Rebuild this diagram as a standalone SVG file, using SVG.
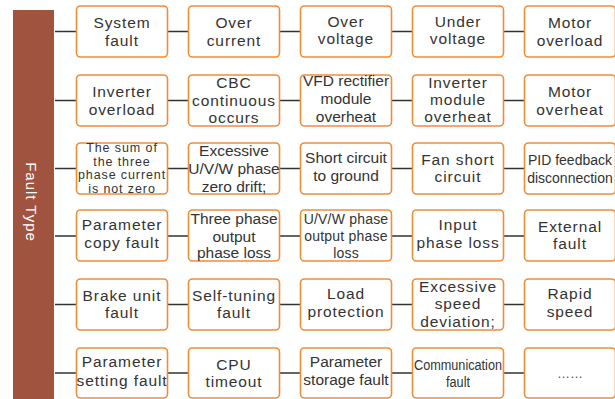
<svg xmlns="http://www.w3.org/2000/svg" width="615" height="399" viewBox="0 0 615 399">
<style>
.bx{fill:#fff;stroke:#F28C36;stroke-width:1.6}
.ln{stroke:#333;stroke-width:1.5;fill:none}
text{font-family:"Liberation Sans",Arial,sans-serif;fill:#333;text-anchor:middle;font-size:15.5px;letter-spacing:0.9px}
.t{letter-spacing:0}
.s14{font-size:14px;letter-spacing:0.2px}
.s13{font-size:12.5px;letter-spacing:0.9px}
.title{fill:#fff;font-size:15px;letter-spacing:1px}
</style>
<rect x="13" y="10" width="41" height="389" fill="#A0533F"/>
<text class="title" transform="translate(25.5,202) rotate(90)">Fault Type</text>
<g id="connectors">
<path class="ln" d="M55 31.5H76.5M167.5 31.5H188.5M279.5 31.5H300.5M391.5 31.5H412.5M503.5 31.5H524.5"/>
<path class="ln" d="M55 100.5H76.5M167.5 100.5H188.5M279.5 100.5H300.5M391.5 100.5H412.5M503.5 100.5H524.5"/>
<path class="ln" d="M55 168.5H76.5M167.5 168.5H188.5M279.5 168.5H300.5M391.5 168.5H412.5M503.5 168.5H524.5"/>
<path class="ln" d="M55 236H76.5M167.5 236H188.5M279.5 236H300.5M391.5 236H412.5M503.5 236H524.5"/>
<path class="ln" d="M55 304.5H76.5M167.5 304.5H188.5M279.5 304.5H300.5M391.5 304.5H412.5M503.5 304.5H524.5"/>
<path class="ln" d="M55 373H76.5M167.5 373H188.5M279.5 373H300.5M391.5 373H412.5M503.5 373H524.5"/>
</g>
<!-- Row 1 -->
<g id="n11"><rect class="bx" x="76.5" y="6" width="91" height="51" rx="4"/><text x="122" y="28.3">System<tspan x="122" y="46">fault</tspan></text></g>
<g id="n12"><rect class="bx" x="188.5" y="6" width="91" height="51" rx="4"/><text x="234" y="28">Over<tspan x="234" y="46">current</tspan></text></g>
<g id="n13"><rect class="bx" x="300.5" y="6" width="91" height="51" rx="4"/><text x="346" y="26.7">Over<tspan x="346" y="44.3">voltage</tspan></text></g>
<g id="n14"><rect class="bx" x="412.5" y="6" width="91" height="51" rx="4"/><text x="458" y="26.7">Under<tspan x="458" y="44.3">voltage</tspan></text></g>
<g id="n15"><rect class="bx" x="524.5" y="6" width="91" height="51" rx="4"/><text x="570" y="28.3">Motor<tspan x="570" y="45.7">overload</tspan></text></g>
<!-- Row 2 -->
<g id="n21"><rect class="bx" x="76.5" y="75" width="91" height="51" rx="4"/><text x="122" y="96.7">Inverter<tspan x="122" y="115">overload</tspan></text></g>
<g id="n22"><rect class="bx" x="188.5" y="75" width="91" height="51" rx="4"/><text x="234" y="87.7">CBC<tspan x="234" y="105.7">continuous</tspan><tspan x="234" y="123.3">occurs</tspan></text></g>
<g id="n23"><rect class="bx" x="300.5" y="75" width="91" height="51" rx="4"/><text class="t" x="346" y="86">VFD rectifier<tspan x="346" y="104">module</tspan><tspan x="346" y="122.3">overheat</tspan></text></g>
<g id="n24"><rect class="bx" x="412.5" y="75" width="91" height="51" rx="4"/><text x="458" y="87.7">Inverter<tspan x="458" y="105.3">module</tspan><tspan x="458" y="122.3">overheat</tspan></text></g>
<g id="n25"><rect class="bx" x="524.5" y="75" width="91" height="51" rx="4"/><text x="570" y="96.7">Motor<tspan x="570" y="115">overheat</tspan></text></g>
<!-- Row 3 -->
<g id="n31"><rect class="bx" x="76.5" y="143" width="91" height="51" rx="4"/><text class="s13" x="122" y="152.2">The sum of<tspan x="122" y="165.7">the three</tspan><tspan x="122" y="179.2">phase current</tspan><tspan x="122" y="192.7">is not zero</tspan></text></g>
<g id="n32"><rect class="bx" x="188.5" y="143" width="91" height="51" rx="4"/><text class="t" x="234" y="156">Excessive<tspan x="234" y="174">U/V/W phase</tspan><tspan x="234" y="191.7">zero drift;</tspan></text></g>
<g id="n33"><rect class="bx" x="300.5" y="143" width="91" height="51" rx="4"/><text class="t" x="346" y="163.3">Short circuit<tspan x="346" y="180.7">to ground</tspan></text></g>
<g id="n34"><rect class="bx" x="412.5" y="143" width="91" height="51" rx="4"/><text x="458" y="165">Fan short<tspan x="458" y="182">circuit</tspan></text></g>
<g id="n35"><rect class="bx" x="524.5" y="143" width="91" height="51" rx="4"/><text class="s14" x="570" y="165" style="letter-spacing:0">PID feedback<tspan x="570" y="183">disconnection</tspan></text></g>
<!-- Row 4 -->
<g id="n41"><rect class="bx" x="76.5" y="210" width="91" height="51" rx="4"/><text x="122" y="230">Parameter<tspan x="122" y="248.3">copy fault</tspan></text></g>
<g id="n42"><rect class="bx" x="188.5" y="210" width="91" height="51" rx="4"/><text class="t" x="234" y="224">Three phase<tspan x="234" y="241.7">output</tspan><tspan x="234" y="258">phase loss</tspan></text></g>
<g id="n43"><rect class="bx" x="300.5" y="210" width="91" height="51" rx="4"/><text class="s14" x="346" y="224">U/V/W phase<tspan x="346" y="241">output phase</tspan><tspan x="346" y="257.5">loss</tspan></text></g>
<g id="n44"><rect class="bx" x="412.5" y="210" width="91" height="51" rx="4"/><text x="458" y="230">Input<tspan x="458" y="248">phase loss</tspan></text></g>
<g id="n45"><rect class="bx" x="524.5" y="210" width="91" height="51" rx="4"/><text x="570" y="231.7">External<tspan x="570" y="249">fault</tspan></text></g>
<!-- Row 5 -->
<g id="n51"><rect class="bx" x="76.5" y="279" width="91" height="51" rx="4"/><text x="122" y="300.7">Brake unit<tspan x="122" y="318.3">fault</tspan></text></g>
<g id="n52"><rect class="bx" x="188.5" y="279" width="91" height="51" rx="4"/><text x="234" y="300.7">Self-tuning<tspan x="234" y="318.3">fault</tspan></text></g>
<g id="n53"><rect class="bx" x="300.5" y="279" width="91" height="51" rx="4"/><text x="346" y="299.3">Load<tspan x="346" y="317.3">protection</tspan></text></g>
<g id="n54"><rect class="bx" x="412.5" y="279" width="91" height="51" rx="4"/><text x="458" y="291.7">Excessive<tspan x="458" y="309">speed</tspan><tspan x="458" y="326.7">deviation;</tspan></text></g>
<g id="n55"><rect class="bx" x="524.5" y="279" width="91" height="51" rx="4"/><text x="570" y="299">Rapid<tspan x="570" y="317">speed</tspan></text></g>
<!-- Row 6 -->
<g id="n61"><rect class="bx" x="76.5" y="348" width="91" height="50" rx="4"/><text x="122" y="367.3">Parameter<tspan x="122" y="385.7">setting fault</tspan></text></g>
<g id="n62"><rect class="bx" x="188.5" y="348" width="91" height="50" rx="4"/><text x="234" y="370">CPU<tspan x="234" y="387">timeout</tspan></text></g>
<g id="n63"><rect class="bx" x="300.5" y="348" width="91" height="50" rx="4"/><text class="t" x="346" y="367.3">Parameter<tspan x="346" y="385">storage fault</tspan></text></g>
<g id="n64"><rect class="bx" x="412.5" y="348" width="91" height="50" rx="4"/><text class="t" x="458" y="370" font-size="15" textLength="88" lengthAdjust="spacingAndGlyphs">Communication</text><text class="t" x="458" y="387" font-size="15" textLength="24" lengthAdjust="spacingAndGlyphs">fault</text></g>
<g id="n65"><rect class="bx" x="524.5" y="348" width="91" height="50" rx="4"/><text x="570" y="378" style="font-size:13px;fill:#555;letter-spacing:0">……</text></g>
</svg>
